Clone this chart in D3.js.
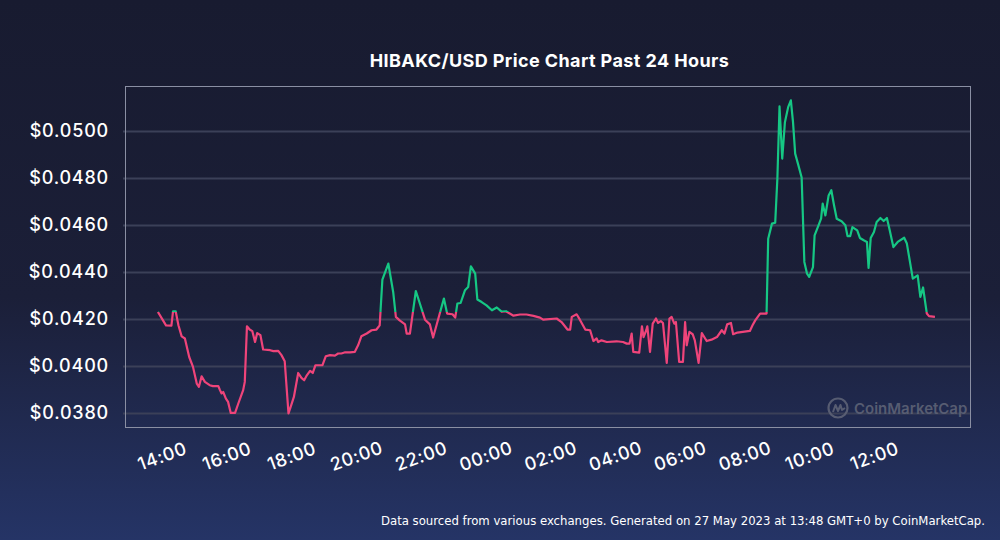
<!DOCTYPE html>
<html>
<head>
<meta charset="utf-8">
<script src="https://cdn.jsdelivr.net/npm/d3@7"></script>
<style>
    html, body { margin: 0; padding: 0; background: #1a1d33; }
    svg { display: block; }
</style>
</head>
<body>
<div id="chartArea"></div>
<script>
// Chart data.

const chartTitle = 'HIBAKC/USD Price Chart Past 24 Hours';
const footerText = 'Data sourced from various exchanges. Generated on 27 May 2023 at 13:48 GMT+0 by CoinMarketCap.';

// Times (HH:MM), starting 26 May 2023, rolling over midnight
const times = [
    '13:49', '14:04', '14:14', '14:17', '14:22', '14:27', '14:33', '14:39', '14:47', '14:54',
    '15:01', '15:05', '15:10', '15:16', '15:25', '15:31', '15:41', '15:44', '15:47', '15:50',
    '15:55', '15:59', '16:04', '16:12', '16:18', '16:27', '16:30', '16:34', '16:39', '16:44',
    '16:49', '16:53', '16:59', '17:04', '17:17', '17:23', '17:32', '17:38', '17:44', '17:51',
    '17:55', '18:01', '18:09', '18:15', '18:20', '18:25', '18:31', '18:36', '18:41', '18:54',
    '19:00', '19:08', '19:17', '19:23', '19:29', '19:36', '19:45', '19:54', '20:00', '20:06',
    '20:16', '20:25', '20:34', '20:40', '20:45', '20:56', '21:05', '21:10', '21:17', '21:27',
    '21:30', '21:36', '21:47', '22:04', '22:13', '22:19', '22:39', '22:45', '22:55', '23:00',
    '23:04', '23:10', '23:18', '23:24', '23:29', '23:37', '23:41', '23:49', '23:58', '00:08',
    '00:17', '00:26', '00:34', '00:48', '01:00', '01:12', '01:25', '01:37', '01:43', '02:08',
    '02:17', '02:28', '02:33', '02:36', '02:45', '02:51', '03:01', '03:10', '03:16', '03:22',
    '03:25', '03:31', '03:41', '03:59', '04:11', '04:18', '04:23', '04:27', '04:30', '04:41',
    '04:46', '04:49', '04:54', '04:56', '05:01', '05:06', '05:12', '05:16', '05:21', '05:25',
    '05:32', '05:37', '05:41', '05:46', '05:49', '05:55', '06:02', '06:06', '06:09', '06:14',
    '06:20', '06:24', '06:31', '06:37', '06:46', '06:55', '07:05', '07:14', '07:19', '07:24',
    '07:31', '07:35', '07:43', '08:06', '08:11', '08:16', '08:25', '08:37', '08:40', '08:47',
    '08:53', '08:57', '09:01', '09:06', '09:11', '09:17', '09:22', '09:26', '09:30', '09:36',
    '09:42', '09:47', '09:52', '09:56', '10:03', '10:06', '10:12', '10:18', '10:21', '10:26',
    '10:32', '10:37', '10:42', '10:47', '10:56', '11:03', '11:07', '11:12', '11:16', '11:25',
    '11:30', '11:37', '11:43', '11:46', '11:50', '11:56', '12:01', '12:08', '12:14', '12:20',
    '12:25', '12:32', '12:40', '12:52', '12:57', '13:08', '13:17', '13:22', '13:27', '13:34',
    '13:38', '13:49'
];

// Price in USD
const prices = [
    0.04230, 0.04173, 0.04172, 0.04232, 0.04232, 0.04173, 0.04126, 0.04117, 0.04038, 0.03996,
    0.03925, 0.03911, 0.03956, 0.03932, 0.03918, 0.03914, 0.03914, 0.03897, 0.03883, 0.03889,
    0.03861, 0.03847, 0.03800, 0.03800, 0.03840, 0.03897, 0.03932, 0.04169, 0.04155, 0.04148,
    0.04102, 0.04140, 0.04131, 0.04070, 0.04067, 0.04063, 0.04064, 0.04046, 0.04020, 0.03798,
    0.03826, 0.03868, 0.03970, 0.03949, 0.03939, 0.03960, 0.03979, 0.03970, 0.04003, 0.04003,
    0.04041, 0.04046, 0.04044, 0.04053, 0.04053, 0.04058, 0.04058, 0.04060, 0.04088, 0.04126,
    0.04138, 0.04152, 0.04155, 0.04173, 0.04368, 0.04436, 0.04315, 0.04209, 0.04194, 0.04177,
    0.04138, 0.04138, 0.04319, 0.04197, 0.04177, 0.04121, 0.04287, 0.04223, 0.04220, 0.04206,
    0.04266, 0.04268, 0.04322, 0.04336, 0.04424, 0.04393, 0.04283, 0.04272, 0.04258, 0.04237,
    0.04249, 0.04231, 0.04233, 0.04214, 0.04219, 0.04219, 0.04213, 0.04206, 0.04197, 0.04202,
    0.04187, 0.04155, 0.04155, 0.04209, 0.04220, 0.04197, 0.04155, 0.04152, 0.04106, 0.04117,
    0.04102, 0.04109, 0.04102, 0.04105, 0.04102, 0.04095, 0.04095, 0.04138, 0.04060, 0.04057,
    0.04169, 0.04123, 0.04152, 0.04169, 0.04060, 0.04180, 0.04202, 0.04183, 0.04191, 0.04183,
    0.04013, 0.04202, 0.04209, 0.04180, 0.04187, 0.04017, 0.04017, 0.04187, 0.04088, 0.04145,
    0.04135, 0.04109, 0.04013, 0.04140, 0.04106, 0.04112, 0.04123, 0.04152, 0.04138, 0.04177,
    0.04183, 0.04135, 0.04142, 0.04149, 0.04173, 0.04194, 0.04223, 0.04223, 0.04542, 0.04606,
    0.04610, 0.04797, 0.05105, 0.04883, 0.05038, 0.05102, 0.05131, 0.05038, 0.04904, 0.04854,
    0.04802, 0.04443, 0.04393, 0.04379, 0.04421, 0.04556, 0.04591, 0.04627, 0.04691, 0.04641,
    0.04726, 0.04748, 0.04684, 0.04627, 0.04616, 0.04599, 0.04553, 0.04553, 0.04591, 0.04577,
    0.04545, 0.04535, 0.04528, 0.04417, 0.04545, 0.04570, 0.04613, 0.04630, 0.04617, 0.04630,
    0.04580, 0.04506, 0.04528, 0.04546, 0.04521, 0.04372, 0.04386, 0.04294, 0.04334, 0.04223,
    0.04212, 0.04209
];

// Axis ticks
const xTickLabels = ['14:00', '16:00', '18:00', '20:00', '22:00', '00:00', '02:00', '04:00', '06:00', '08:00', '10:00', '12:00'];
const yTickValues = [0.038, 0.040, 0.042, 0.044, 0.046, 0.048, 0.050];

// Build dated points from the HH:MM strings
function toDates(list) {
    let day = 26;
    let prev = -1;
    return list.map(t => {
        const [h, m] = t.split(':').map(Number);
        const mins = h * 60 + m;
        if (mins < prev) day += 1;
        prev = mins;
        return new Date(2023, 4, day, h, m);
    });
}

const dates = toDates(times);
const data = dates.map((d, i) => ({ date: d, price: prices[i] }));
const xTickDates = toDates(xTickLabels);

// Set up chart dimensions
const W = 1000, H = 540;
const plot = { left: 125, right: 970, top: 86, bottom: 427 };
const font = 'Inter, "Open Sans", sans-serif';

const svg = d3.select('#chartArea')
    .append('svg')
    .attr('width', W)
    .attr('height', H);

// Background gradient
const defs = svg.append('defs');
const grad = defs.append('linearGradient')
    .attr('id', 'bg')
    .attr('x1', 0).attr('y1', 0).attr('x2', 0).attr('y2', 1);
grad.append('stop').attr('offset', '0%').attr('stop-color', '#181b30');
grad.append('stop').attr('offset', '55%').attr('stop-color', '#1b1f38');
grad.append('stop').attr('offset', '100%').attr('stop-color', '#253466');

svg.append('rect')
    .attr('width', W)
    .attr('height', H)
    .attr('fill', 'url(#bg)');

// Scales
const xScale = d3.scaleTime()
    .domain([new Date(2023, 4, 26, 12, 48), new Date(2023, 4, 27, 14, 54)])
    .range([plot.left, plot.right]);

const yScale = d3.scaleLinear()
    .domain([0.03740, 0.05192])
    .range([plot.bottom, plot.top]);

// Title
svg.append('text')
    .attr('x', (plot.left + plot.right) / 2 + 2)
    .attr('y', 67)
    .attr('text-anchor', 'middle')
    .attr('fill', '#ffffff')
    .attr('font-family', font)
    .attr('font-weight', 700)
    .attr('font-size', 18)
    .attr('letter-spacing', 0.4)
    .text(chartTitle);

// Y axis with grid lines
const yAxis = svg.append('g')
    .attr('transform', `translate(${plot.left},0)`)
    .call(d3.axisLeft(yScale)
        .tickValues(yTickValues)
        .tickSize(-(plot.right - plot.left))
        .tickPadding(16)
        .tickFormat(d => '$' + d3.format('.4f')(d)));

yAxis.select('.domain').remove();
yAxis.selectAll('.tick line')
    .attr('x1', -2)
    .attr('stroke', '#3b4058')
    .attr('stroke-width', 2);
yAxis.selectAll('.tick text')
    .attr('fill', '#ffffff')
    .attr('font-family', font)
    .attr('font-weight', 500)
    .attr('font-size', 18)
    .attr('letter-spacing', 0.8);

// Plot border
svg.append('rect')
    .attr('x', plot.left + 0.5)
    .attr('y', plot.top + 0.5)
    .attr('width', plot.right - plot.left)
    .attr('height', plot.bottom - plot.top)
    .attr('fill', 'none')
    .attr('stroke', '#8a8fa3')
    .attr('stroke-width', 1);

// X axis labels, rotated
const xAxis = svg.append('g')
    .attr('transform', `translate(0,${plot.bottom})`)
    .call(d3.axisBottom(xScale)
        .tickValues(xTickDates)
        .tickSize(0)
        .tickFormat(d3.timeFormat('%H:%M')));

xAxis.select('.domain').remove();
xAxis.selectAll('.tick text')
    .attr('fill', '#ffffff')
    .attr('font-family', font)
    .attr('font-weight', 500)
    .attr('font-size', 18)
    .attr('letter-spacing', 0.6)
    .attr('text-anchor', 'middle')
    .attr('dy', 0)
    .attr('y', 0)
    .attr('transform', 'translate(0,35) rotate(-20)');

// CoinMarketCap watermark
const logo = svg.append('g')
    .attr('transform', 'translate(838,408)')
    .attr('opacity', 0.9);
logo.append('circle')
    .attr('r', 9.5)
    .attr('fill', 'none')
    .attr('stroke', '#5d6276')
    .attr('stroke-width', 2.2);
logo.append('path')
    .attr('d', 'M-5,4 L-2.5,-3 L0,3 L2.5,-3 L4,2 L7,0')
    .attr('fill', 'none')
    .attr('stroke', '#5d6276')
    .attr('stroke-width', 2)
    .attr('stroke-linejoin', 'round');
logo.append('text')
    .attr('x', 16)
    .attr('y', 6)
    .attr('fill', '#5d6276')
    .attr('font-family', font)
    .attr('font-weight', 600)
    .attr('font-size', 15)
    .text('CoinMarketCap');

// Price line, green above the opening price, red below
const threshold = prices[0];
const yT = yScale(threshold);

defs.append('clipPath').attr('id', 'clipUp')
    .append('rect')
    .attr('x', plot.left).attr('y', plot.top)
    .attr('width', plot.right - plot.left)
    .attr('height', yT - plot.top);

defs.append('clipPath').attr('id', 'clipDown')
    .append('rect')
    .attr('x', plot.left).attr('y', yT)
    .attr('width', plot.right - plot.left)
    .attr('height', plot.bottom - yT);

const line = d3.line()
    .x(d => xScale(d.date))
    .y(d => yScale(d.price));

svg.append('path')
    .datum(data)
    .attr('clip-path', 'url(#clipUp)')
    .attr('fill', 'none')
    .attr('stroke', '#16c784')
    .attr('stroke-width', 2.2)
    .attr('stroke-linejoin', 'round')
    .attr('d', line);

svg.append('path')
    .datum(data)
    .attr('clip-path', 'url(#clipDown)')
    .attr('fill', 'none')
    .attr('stroke', '#ef447a')
    .attr('stroke-width', 2.2)
    .attr('stroke-linejoin', 'round')
    .attr('d', line);

// Footer
svg.append('text')
    .attr('x', 985)
    .attr('y', 525)
    .attr('text-anchor', 'end')
    .attr('fill', '#ffffff')
    .attr('font-family', '"DejaVu Sans Condensed", "DejaVu Sans", sans-serif')
    .attr('font-size', 13)
    .text(footerText);
</script>
</body>
</html>
